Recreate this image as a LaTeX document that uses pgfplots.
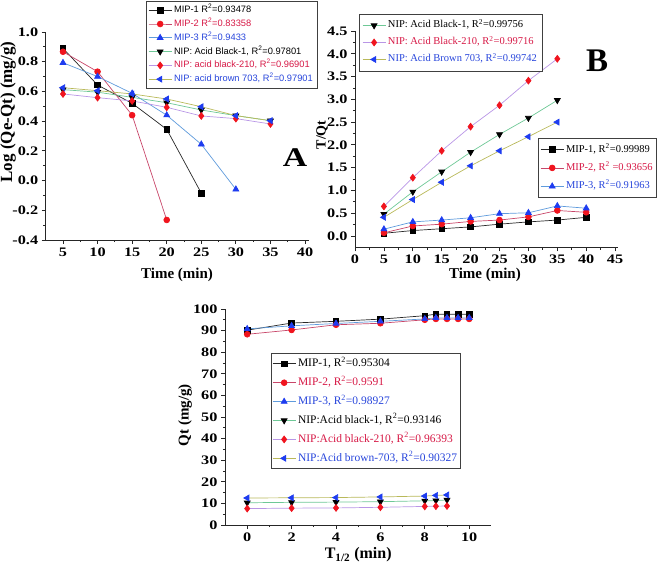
\documentclass[border=0pt]{standalone}
\usepackage{pgfplots}
\pgfplotsset{compat=1.18}
\usepackage{fontspec}
\setmainfont{Liberation Serif}
\newfontfamily\tickfont[FakeStretch=1.25]{Liberation Serif}
\newfontfamily\legA{Liberation Sans}
\definecolor{lnblack}{RGB}{40,40,40}
\definecolor{lnred}{RGB}{200,70,105}
\definecolor{lnblue}{RGB}{95,155,220}
\definecolor{lngreen}{RGB}{110,200,150}
\definecolor{lnpurple}{RGB}{185,150,230}
\definecolor{lnolive}{RGB}{185,185,90}
\definecolor{mkred}{RGB}{240,20,30}
\definecolor{mkblue}{RGB}{30,60,240}
\definecolor{txred}{RGB}{215,25,70}
\definecolor{txblue}{RGB}{40,70,220}
\pgfplotsset{
  myax/.style={
    scale only axis, axis lines*=left, tick align=outside,
    axis line style={line width=0.9pt, black!85},
    major tick length=4pt, minor tick length=2.2pt,
    every tick/.style={black!85, line width=0.8pt},
    tick label style={font=\fontsize{13}{15}\tickfont\bfseries},
    label style={font=\fontsize{15}{17}\selectfont\bfseries},
    /pgf/number format/assume math mode=true,
    legend cell align=left,
    legend image code/.code={\draw[mark repeat=2,mark phase=2] plot coordinates {(0pt,0pt) (11.5pt,0pt) (23pt,0pt)};},
  },
  sA/.style={color=lnblack, line width=0.7pt, mark=square*, mark size=2.8pt, mark options={draw=black, fill=black}},
  sB/.style={color=lnred, line width=0.7pt, mark=*, mark size=2.9pt, mark options={draw=mkred, fill=mkred}},
  sC/.style={color=lnblue, line width=0.7pt, mark=triangle*, mark size=3.4pt, mark options={draw=mkblue, fill=mkblue}},
  sD/.style={color=lngreen, line width=0.7pt, mark=triangle*, mark size=3.4pt, mark options={rotate=180, draw=black, fill=black}},
  sE/.style={color=lnpurple, line width=0.7pt, mark=diamond*, mark size=3.4pt, mark options={draw=mkred, fill=mkred}},
  sF/.style={color=lnolive, line width=0.7pt, mark=triangle*, mark size=3.4pt, mark options={rotate=90, draw=mkblue, fill=mkblue}},
}
\begin{document}
\begin{tikzpicture}
\path[use as bounding box] (0pt,0pt) rectangle (661pt,565pt);
% ---------------- Panel A ----------------
\begin{axis}[myax, at={(45.7pt,325pt)}, anchor=south west, width=262.8pt, height=208pt,
  xmin=2.5, xmax=40.5, ymin=-0.4, ymax=1.0,
  xtick={5,10,...,40}, ytick={-0.4,-0.2,...,1.01}, minor x tick num=1, minor y tick num=1,
  yticklabel style={/pgf/number format/.cd, fixed, fixed zerofill, precision=1},
  xlabel={Time (min)}, ylabel={Log (Qe-Qt) (mg/g)},
  xlabel style={at={(axis description cs:0.5,-0.168)}, anchor=center},
  ylabel style={at={(axis description cs:-0.1435,0.615)}, anchor=center, font=\fontsize{17}{19}\selectfont\bfseries},
  legend style={at={(axis description cs:0.3817,1.149)}, anchor=north west, draw=black!75, line width=0.6pt,
    inner sep=2pt, row sep=0pt, font=\fontsize{9.3}{11}\legA,
    nodes={inner ysep=2.3pt, inner xsep=2pt, text height=7pt, text depth=2.2pt}},
]
\addplot[sA] coordinates {(5,0.89) (10,0.643) (15,0.52) (20,0.345) (25,-0.085)};
\addlegendentry{MIP-1 R\textsuperscript{2}=0.93478}
\addplot[sB] coordinates {(5,0.867) (10,0.733) (15,0.44) (20,-0.265)};
\addlegendentry{\textcolor{txred}{MIP-2 R\textsuperscript{2}=0.83358}}
\addplot[sC] coordinates {(5,0.793) (10,0.70) (15,0.587) (20,0.44) (25,0.244) (30,-0.059)};
\addlegendentry{\textcolor{txblue}{MIP-3 R\textsuperscript{2}=0.9433}}
\addplot[sD] coordinates {(5,0.612) (10,0.595) (15,0.56) (20,0.524) (25,0.475) (30,0.437) (35,0.403)};
\addlegendentry{NIP: Acid Black-1, R\textsuperscript{2}=0.97801}
\addplot[sE] coordinates {(5,0.583) (10,0.558) (15,0.536) (20,0.493) (25,0.435) (30,0.417) (35,0.381)};
\addlegendentry{\textcolor{txred}{NIP: acid black-210, R\textsuperscript{2}=0.96901}}
\addplot[sF] coordinates {(5,0.625) (10,0.605) (15,0.583) (20,0.549) (25,0.497) (30,0.437) (35,0.403)};
\addlegendentry{\textcolor{txblue}{NIP: acid brown 703, R\textsuperscript{2}=0.97901}}
\end{axis}
\node[font=\fontsize{27}{27}\tickfont\bfseries] at (295pt,407pt) {A};
% ---------------- Panel B ----------------
\begin{axis}[myax, at={(355pt,317.6pt)}, anchor=south west, width=263pt, height=216.4pt,
  xmin=0, xmax=45.5, ymin=-0.25, ymax=4.5,
  xtick={0,5,...,45}, ytick={0,0.5,...,4.51}, minor x tick num=1, minor y tick num=1,
  yticklabel style={/pgf/number format/.cd, fixed, fixed zerofill, precision=1},
  xlabel={Time (min)}, ylabel={T/Qt},
  xlabel style={at={(axis description cs:0.494,-0.128)}, anchor=center},
  ylabel style={at={(axis description cs:-0.125,0.52)}, anchor=center, font=\fontsize{14}{16}\selectfont\bfseries},
  legend style={at={(axis description cs:0.015,1.08)}, anchor=north west, draw=black!75, line width=0.6pt,
    inner sep=3pt, row sep=0pt, font=\fontsize{10.5}{12}\selectfont,
    nodes={inner ysep=3pt, inner xsep=2pt, text height=8pt, text depth=3pt}},
]
\addplot[sD] coordinates {(5,0.48) (10,0.97) (15,1.41) (20,1.84) (25,2.23) (30,2.59) (35,2.98)};
\addlegendentry{NIP: Acid Black-1, R\textsuperscript{2}=0.99756}
\addplot[sE] coordinates {(5,0.65) (10,1.28) (15,1.87) (20,2.40) (25,2.87) (30,3.41) (35,3.89)};
\addlegendentry{\textcolor{txred}{NIP: Acid Black-210, R\textsuperscript{2}=0.99716}}
\addplot[sF] coordinates {(5,0.41) (10,0.80) (15,1.18) (20,1.54) (25,1.87) (30,2.18) (35,2.50)};
\addlegendentry{\textcolor{txblue}{NIP: Acid Brown 703, R\textsuperscript{2}=0.99742}}
\end{axis}
\begin{axis}[myax, hide axis, at={(355pt,317.6pt)}, anchor=south west, width=263pt, height=216.4pt,
  xmin=0, xmax=45.5, ymin=-0.25, ymax=4.5,
  legend style={at={(axis description cs:0.696,0.5055)}, anchor=north west, draw=black!75, line width=0.6pt,
    inner sep=2pt, row sep=0pt, font=\fontsize{10.5}{12}\selectfont,
    nodes={inner ysep=3.7pt, inner xsep=2pt, text height=8pt, text depth=3pt}},
]
\addplot[sA] coordinates {(5,0.06) (10,0.12) (15,0.16) (20,0.20) (25,0.26) (30,0.31) (35,0.35) (40,0.41)};
\addlegendentry{MIP-1, R\textsuperscript{2}=0.99989}
\addplot[sB] coordinates {(5,0.07) (10,0.22) (15,0.26) (20,0.32) (25,0.35) (30,0.42) (35,0.56) (40,0.52)};
\addlegendentry{\textcolor{txred}{MIP-2, R\textsuperscript{2} =0.93656}}
\addplot[sC] coordinates {(5,0.15) (10,0.31) (15,0.35) (20,0.40) (25,0.49) (30,0.51) (35,0.66) (40,0.61)};
\addlegendentry{\textcolor{txblue}{MIP-3, R\textsuperscript{2}=0.91963}}
\end{axis}
\node[font=\fontsize{33}{33}\selectfont\bfseries] at (597pt,504pt) {B};
% ---------------- Panel C ----------------
\begin{axis}[myax, at={(225pt,40pt)}, anchor=south west, width=266.4pt, height=216pt,
  xmin=-1, xmax=11, ymin=0, ymax=100,
  xtick={0,2,...,10}, ytick={0,10,...,100}, minor x tick num=1, minor y tick num=1,
  xlabel={T\textsubscript{1/2} (min)}, ylabel={Qt (mg/g)},
  xlabel style={at={(axis description cs:0.5,-0.139)}, anchor=center, font=\fontsize{16}{18}\selectfont\bfseries},
  ylabel style={at={(axis description cs:-0.150,0.509)}, anchor=center},
  legend style={at={(axis description cs:0.1727,0.796)}, anchor=north west, draw=black!75, line width=0.6pt,
    inner sep=1pt, row sep=0pt, font=\fontsize{11.5}{13}\selectfont,
    nodes={inner ysep=3.7pt, inner xsep=2pt, text height=8.5pt, text depth=3pt}},
]
\addplot[sA] coordinates {(0,90.2) (2,93.5) (4,94.3) (6,95.3) (8,96.9) (8.5,97.6) (9,97.6) (9.5,97.6) (10,97.6)};
\addlegendentry{MIP-1, R\textsuperscript{2}=0.95304}
\addplot[sB] coordinates {(0,88.3) (2,90.3) (4,92.7) (6,93.4) (8,95.0) (8.5,95.4) (9,95.4) (9.5,95.4) (10,95.4)};
\addlegendentry{\textcolor{txred}{MIP-2, R\textsuperscript{2}=0.9591}}
\addplot[sC] coordinates {(0,90.8) (2,92.2) (4,93.3) (6,94.3) (8,95.4) (8.5,95.9) (9,95.9) (9.5,95.9) (10,95.9)};
\addlegendentry{\textcolor{txblue}{MIP-3, R\textsuperscript{2}=0.98927}}
\addplot[sD] coordinates {(0,10.3) (2,10.5) (4,10.6) (6,10.8) (8,11.2) (8.5,11.3) (9,11.6)};
\addlegendentry{NIP:Acid black-1, R\textsuperscript{2}=0.93146}
\addplot[sE] coordinates {(0,7.6) (2,7.8) (4,7.9) (6,8.2) (8,8.6) (8.5,8.7) (9,8.8)};
\addlegendentry{\textcolor{txred}{NIP:Acid black-210, R\textsuperscript{2}=0.96393}}
\addplot[sF] coordinates {(0,12.5) (2,12.6) (4,12.7) (6,13.0) (8,13.4) (8.5,13.7) (9,13.9)};
\addlegendentry{\textcolor{txblue}{NIP:Acid brown-703, R\textsuperscript{2}=0.90327}}
\end{axis}
\end{tikzpicture}
\end{document}
